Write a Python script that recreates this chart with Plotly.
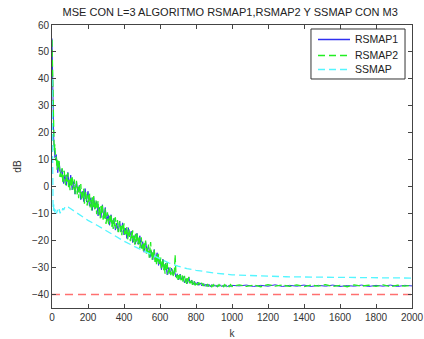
import plotly.graph_objects as go

# ---- data ----
k_head = [0, 2, 4, 6, 8, 10, 12]
k_tail = list(range(1040, 2001, 40))

# RSMAP2: dense sampling in the noisy part
k_rs2 = k_head + list(range(16, 801, 4)) + list(range(808, 1001, 8)) + k_tail
rsmap2_vals = [
    54.5, 46, 33, 28, 19, 16, 13.5,
    # k = 16 .. 300 step 4
    15.7, 9.7, 11.4, 6.3, 9.8, 6.7, 9.5, 3.6, 5.8, 3.5,
    6.9, 1.3, 5.2, 5.9, 1.7, 0.6, 4.5, 1.9, 5.2, -0.2,
    2.6, -1.3, 3.6, 0.1, 4.0, -1.1, 0.2, 2.7, -2.7, 1.0,
    2.2, -2.9, -0.1, -4.3, 0.3, -2.4, 1.0, -4.7, -2.2, -4.3,
    -0.6, -6.3, -2.3, -1.7, -5.8, -7.0, -3.0, -5.7, -2.3, -7.7,
    -4.9, -8.8, -3.9, -7.5, -3.5, -8.6, -7.3, -4.9, -10.2, -6.6,
    -5.3, -10.4, -7.6, -11.8, -7.2, -9.9, -6.5, -12.2, -9.7, -11.8,
    -8.1, -13.8,
    # k = 304 .. 648 step 4
    -10.0, -9.5, -13.0, -14.0, -10.8, -13.0, -10.3, -14.8, -12.5, -15.7,
    -11.7, -14.6, -11.3, -15.5, -14.5, -12.4, -16.9, -13.8, -12.8, -16.9,
    -14.6, -18.0, -14.2, -16.4, -13.6, -18.3, -16.3, -18.0, -14.9, -19.6,
    -16.3, -15.8, -19.2, -20.2, -16.9, -19.1, -16.2, -20.6, -18.3, -21.5,
    -17.5, -20.4, -17.1, -21.3, -20.3, -18.3, -22.8, -19.8, -18.8, -23.0,
    -20.8, -24.3, -20.5, -22.8, -20.0, -24.8, -22.8, -24.5, -21.5, -26.3,
    -23.0, -20.5, -26.0, -27.0, -23.8, -26.1, -23.4, -27.9, -25.7, -29.0,
    -25.1, -28.1, -24.9, -29.2, -28.3, -26.3, -30.8, -27.8, -26.8, -31.0,
    -28.8, -32.3, -28.5, -30.7, -27.9, -32.5, -30.5,
    # k = 652 .. 800 step 4
    -31.7, -29.9, -32.8, -30.9, -30.6, -32.7, -33.4, -31.5, -25.3, -31.2,
    -33.9, -32.6, -34.6, -32.3, -34.1, -32.1, -34.7, -34.2, -32.9, -35.6,
    -33.7, -33.1, -35.6, -34.1, -36.1, -33.8, -35.1, -33.4, -35.8, -35.0,
    -35.7, -34.5, -36.4, -35.0, -34.8, -36.2, -36.6, -35.3,
    # k = 808 .. 1000 step 8
    -36.5, -35.5, -36.7, -35.7, -36.8, -35.9, -37.0, -36.1, -37.1, -36.2,
    -37.1, -36.3, -37.1, -36.4, -37.1, -36.3, -37.0, -36.4, -37.1, -36.3,
    -37.0, -36.4, -37.1, -36.3, -37.0,
    # k = 1040 .. 2000 step 40
    -36.4, -37.0, -36.5, -37.1, -36.3, -36.9, -36.5, -37.0, -36.4, -37.1,
    -36.5, -36.9, -36.3, -37.0, -36.6, -37.1, -36.4, -36.9, -36.5, -37.0,
    -36.4, -37.1, -36.5, -36.9, -36.6,
]

# RSMAP1
k_rs1 = k_head + list(range(16, 1001, 8)) + k_tail
rsmap1_vals = [
    55, 44, 35, 26, 21, 16.5, 15,
    # k = 16 .. 296 step 8
    10.8, 11.9, 5.2, 9.0, 4.4, 6.5, 1.2, 4.3, 0.5, 5.3,
    0.3, 4.3, -1.2, 1.9, -2.8, 2.0, -2.1, 0.5, -4.8, -1.7,
    -5.5, -0.7, -5.7, -1.7, -7.2, -4.1, -8.8, -4.0, -8.1, -5.5,
    -10.8, -7.7, -11.5, -6.7, -11.7, -7.7,
    # k = 304 .. 648 step 8
    -12.8, -10.4, -14.3, -10.4, -13.9, -11.8, -16.1, -13.5, -16.7, -12.7,
    -16.7, -13.4, -17.9, -15.4, -19.2, -15.2, -18.6, -16.5, -20.7, -18.1,
    -21.3, -17.3, -21.4, -18.2, -22.8, -20.4, -24.3, -20.4, -23.9, -21.9,
    -26.3, -23.8, -27.1, -23.3, -27.6, -24.5, -29.2, -26.9, -30.8, -26.9,
    -30.4, -28.4, -32.7, -30.0,
    # k = 656 .. 760 step 8
    -32.3, -30.2, -32.6, -30.9, -33.5, -32.3, -34.6, -32.4, -34.5, -33.3,
    -35.7, -34.1, -35.9, -33.6,
    # k = 768 .. 1000 step 8
    -35.8, -34.6, -36.3, -35.1, -36.4, -35.4, -36.6, -35.7, -36.8, -35.9,
    -36.9, -36.1, -37.0, -36.2, -37.1, -36.3, -37.0, -36.4, -37.1, -36.5,
    -37.0, -36.4, -37.1, -36.5, -37.0, -36.5, -37.1, -36.5, -37.0, -36.6,
    # k = 1040 .. 2000 step 40
    -36.8, -36.5, -37.0, -36.6, -36.9, -36.4, -37.0, -36.6, -36.9, -36.5, -37.0,
    -36.6, -36.9, -36.5, -37.0, -36.7, -36.9, -36.5, -37.0, -36.6, -36.9, -36.5,
    -37.0, -36.6, -36.8,
]

k_ss = [0, 2, 4, 6, 8, 10, 15, 20, 25, 30, 35, 40, 45, 50, 55, 60, 65, 70, 75,
        80, 85, 90, 100, 120, 150, 200, 250, 300, 350, 400, 450, 500, 550, 600,
        650, 700, 750, 800, 850, 900, 1000, 1100, 1200, 1300, 1400, 1500, 1600,
        1700, 1800, 1900, 2000]
ssmap_vals = [40, 12, -5, -7.5, -9.0, -6.5, -9.5, -8.2, -10.0, -8.6, -9.6, -8.3, -9.9,
              -8.8, -9.2, -8.0, -8.6, -7.8, -7.9, -7.3, -7.6, -7.6, -8.0, -8.9,
              -10.3, -12.5, -14.3, -16.3, -18.3, -20.2, -21.9, -23.5, -25.1, -27.0,
              -28.3, -29.5, -30.4, -31.0, -31.6, -32.0, -32.7, -33.0, -33.2, -33.4,
              -33.5, -33.6, -33.7, -33.8, -33.8, -33.9, -33.9]

k_ref = [0, 2000]
ref_vals = [-40, -40]

series_names = ["RSMAP1", "RSMAP2", "SSMAP"]

n1 = min(len(k_rs1), len(rsmap1_vals))
n2 = min(len(k_rs2), len(rsmap2_vals))

FONT = "Liberation Sans, Arial, sans-serif"
C_BLUE = "#3030f0"
C_GREEN = "#22ee22"
C_CYAN = "#55f5ff"
C_RED = "#ff7070"
DASH = "7px,4px"

fig = go.Figure()
fig.add_trace(go.Scatter(x=k_rs1[:n1], y=rsmap1_vals[:n1], mode="lines", name=series_names[0],
                         line=dict(color=C_BLUE, width=1)))
fig.add_trace(go.Scatter(x=k_rs2[:n2], y=rsmap2_vals[:n2], mode="lines", name=series_names[1],
                         line=dict(color=C_GREEN, width=1.3, dash="7px,3px")))
fig.add_trace(go.Scatter(x=k_ss, y=ssmap_vals, mode="lines", name=series_names[2],
                         line=dict(color=C_CYAN, width=1.3, dash=DASH)))
fig.add_trace(go.Scatter(x=k_ref, y=ref_vals, mode="lines", name="ref",
                         line=dict(color=C_RED, width=1.6, dash="8px,5px")))

axis_common = dict(showline=True, linecolor="#444", linewidth=1, mirror="ticks",
                   ticks="inside", ticklen=4, tickcolor="#444", showgrid=False,
                   zeroline=False, automargin=False,
                   tickfont=dict(family=FONT, size=10, color="#333"))

# compact MATLAB-style legend box (paper coordinates)
LX0, LX1, LY0, LY1 = 0.7194, 0.9806, 0.8092, 0.9859
rows_y = [0.9488, 0.8923, 0.8428]
line_x0, line_x1, text_x = 0.7389, 0.8278, 0.8361
shapes = [dict(type="rect", xref="paper", yref="paper", x0=LX0, x1=LX1, y0=LY0, y1=LY1,
               line=dict(color="#333", width=1), fillcolor="white", layer="above")]
annotations = []
legend_styles = [(C_BLUE, "solid"), (C_GREEN, DASH), (C_CYAN, DASH)]
for name, (col, dsh), yy in zip(series_names, legend_styles, rows_y):
    shapes.append(dict(type="line", xref="paper", yref="paper", x0=line_x0, x1=line_x1,
                       y0=yy, y1=yy, line=dict(color=col, width=1.5, dash=dsh), layer="above"))
    annotations.append(dict(xref="paper", yref="paper", x=text_x, y=yy, text=name,
                            showarrow=False, xanchor="left", yanchor="middle",
                            font=dict(family=FONT, size=10.5, color="#222")))

fig.update_layout(
    width=424, height=339,
    margin=dict(l=52, r=12, t=25, b=31),
    paper_bgcolor="white", plot_bgcolor="white",
    showlegend=False,
    title=dict(text="MSE CON L=3 ALGORITMO RSMAP1,RSMAP2 Y SSMAP CON M3",
               x=0.543, xanchor="center", y=0.965, yanchor="middle",
               font=dict(family=FONT, size=11, color="#222")),
    xaxis=dict(range=[0, 2000], tickvals=list(range(0, 2001, 200)),
               title=dict(text="k", standoff=10, font=dict(family=FONT, size=10, color="#333")),
               **axis_common),
    yaxis=dict(range=[-45, 60], tickvals=list(range(-40, 61, 10)),
               title=dict(text="dB", standoff=8, font=dict(family=FONT, size=10, color="#333")),
               **axis_common),
    shapes=shapes,
    annotations=annotations,
)

fig.write_html("out.html")
